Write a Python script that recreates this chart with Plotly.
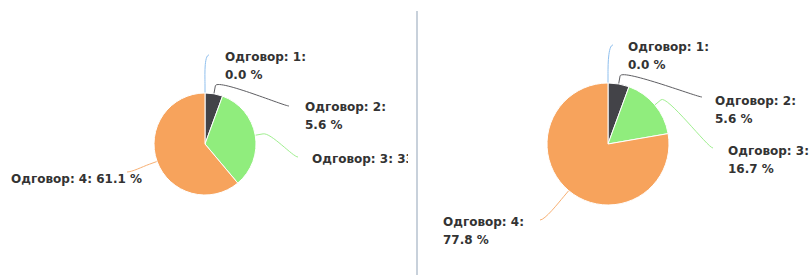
import math
import plotly.graph_objects as go

W, H = 812, 275

# ---- data ----
categories = ["Одговор: 1", "Одговор: 2", "Одговор: 3", "Одговор: 4"]
values_left = [0.0, 5.6, 33.3, 61.1]
values_right = [0.0, 5.6, 16.7, 77.8]

# ---- styles / layout ----
colors = ["#7cb5ec", "#434348", "#90ed7d", "#f7a35c"]
FONT = "DejaVu Sans"
FSIZE = 12
LINE_H = 17.5
BREAK = 8

# pixel layout for the two panels
panels = [
    dict(values=values_left, cx=205, cy=144, r=51, x0=0, x1=408, xa="x", ya="y",
         wrap=[True, True, False, False],
         # (text x, first-line y, side), connector end point
         labels=[(225, 58, "right", (209, 55)),
                 (305, 108, "right", (289, 106)),
                 (312, 160, "right", (298, 157)),
                 (142, 180, "left", (127, 172))]),
    dict(values=values_right, cx=608, cy=144, r=61, x0=420, x1=812, xa="x2", ya="y2",
         wrap=[True, True, True, True],
         labels=[(628, 48, "right", (613, 45)),
                 (715, 102, "right", (702, 97)),
                 (728, 152, "right", (713, 148)),
                 (443, 223, "right", (540, 220))]),
]

fig = go.Figure()
shapes = []

for pi, p in enumerate(panels):
    cx, cy, r = p["cx"], p["cy"], p["r"]
    vals = p["values"]
    fig.add_trace(go.Pie(
        labels=categories, values=vals, sort=False, direction="clockwise",
        rotation=0, textinfo="none", hoverinfo="skip", showlegend=False,
        marker=dict(colors=colors, line=dict(color="white", width=1)),
        domain=dict(x=[(cx - r) / W, (cx + r) / W],
                    y=[1 - (cy + r) / H, 1 - (cy - r) / H]),
    ))

    total = sum(vals)
    cum = 0.0
    tx, ty, tt, tp = [], [], [], []
    for i, (cat, v) in enumerate(zip(categories, vals)):
        theta = (cum + v / 2) / total * 2 * math.pi
        cum += v
        sx, sy = math.sin(theta), -math.cos(theta)
        bx, by = cx + r * sx, cy + r * sy
        kx, ky = cx + (r + BREAK) * sx, cy + (r + BREAK) * sy
        c2x, c2y = 2 * kx - bx, 2 * ky - by
        lx, ly, side, (ex, ey) = p["labels"][i]
        c1x = ex - 5 if ex > cx else ex + 5
        path = (f"M {ex},{ey} C {c1x},{ey} {c2x:.2f},{c2y:.2f} {kx:.2f},{ky:.2f} "
                f"L {bx:.2f},{by:.2f}")
        shapes.append(dict(type="path", path=path, xref=p["xa"], yref=p["ya"],
                           line=dict(color=colors[i], width=1), opacity=0.85,
                           layer="below"))
        label = f"{cat}: {v:.1f} %"
        lines = [f"{cat}:", f"{v:.1f} %"] if p["wrap"][i] else [label]
        pos = "middle right" if side == "right" else "middle left"
        for j, ln in enumerate(lines):
            tx.append(lx)
            ty.append(ly + j * LINE_H)
            tt.append(ln)
            tp.append(pos)

    fig.add_trace(go.Scatter(
        x=tx, y=ty, text=tt, mode="text", textposition=tp, cliponaxis=True,
        textfont=dict(family=FONT, size=FSIZE, color="#333333", weight="bold"),
        hoverinfo="skip", showlegend=False, xaxis=p["xa"], yaxis=p["ya"],
    ))

# separator line
shapes.append(dict(type="line", xref="paper", yref="paper",
                   x0=417 / W, x1=417 / W, y0=0, y1=1 - 11 / H,
                   line=dict(color="#c8d1db", width=2)))

axis_common = dict(visible=False, showgrid=False, zeroline=False, fixedrange=True)
fig.update_layout(
    width=W, height=H,
    margin=dict(l=0, r=0, t=0, b=0),
    paper_bgcolor="white", plot_bgcolor="rgba(0,0,0,0)",
    xaxis=dict(domain=[0, panels[0]["x1"] / W], range=[panels[0]["x0"], panels[0]["x1"]], **axis_common),
    yaxis=dict(domain=[0, 1], range=[H, 0], **axis_common),
    xaxis2=dict(domain=[panels[1]["x0"] / W, 1], range=[panels[1]["x0"], panels[1]["x1"]], anchor="y2", **axis_common),
    yaxis2=dict(domain=[0, 1], range=[H, 0], anchor="x2", **axis_common),
    shapes=shapes,
)

fig.write_html(
    "out.html",
    config={"displayModeBar": False},
    post_script="document.body.style.margin='0';document.body.style.overflow='hidden';",
)
